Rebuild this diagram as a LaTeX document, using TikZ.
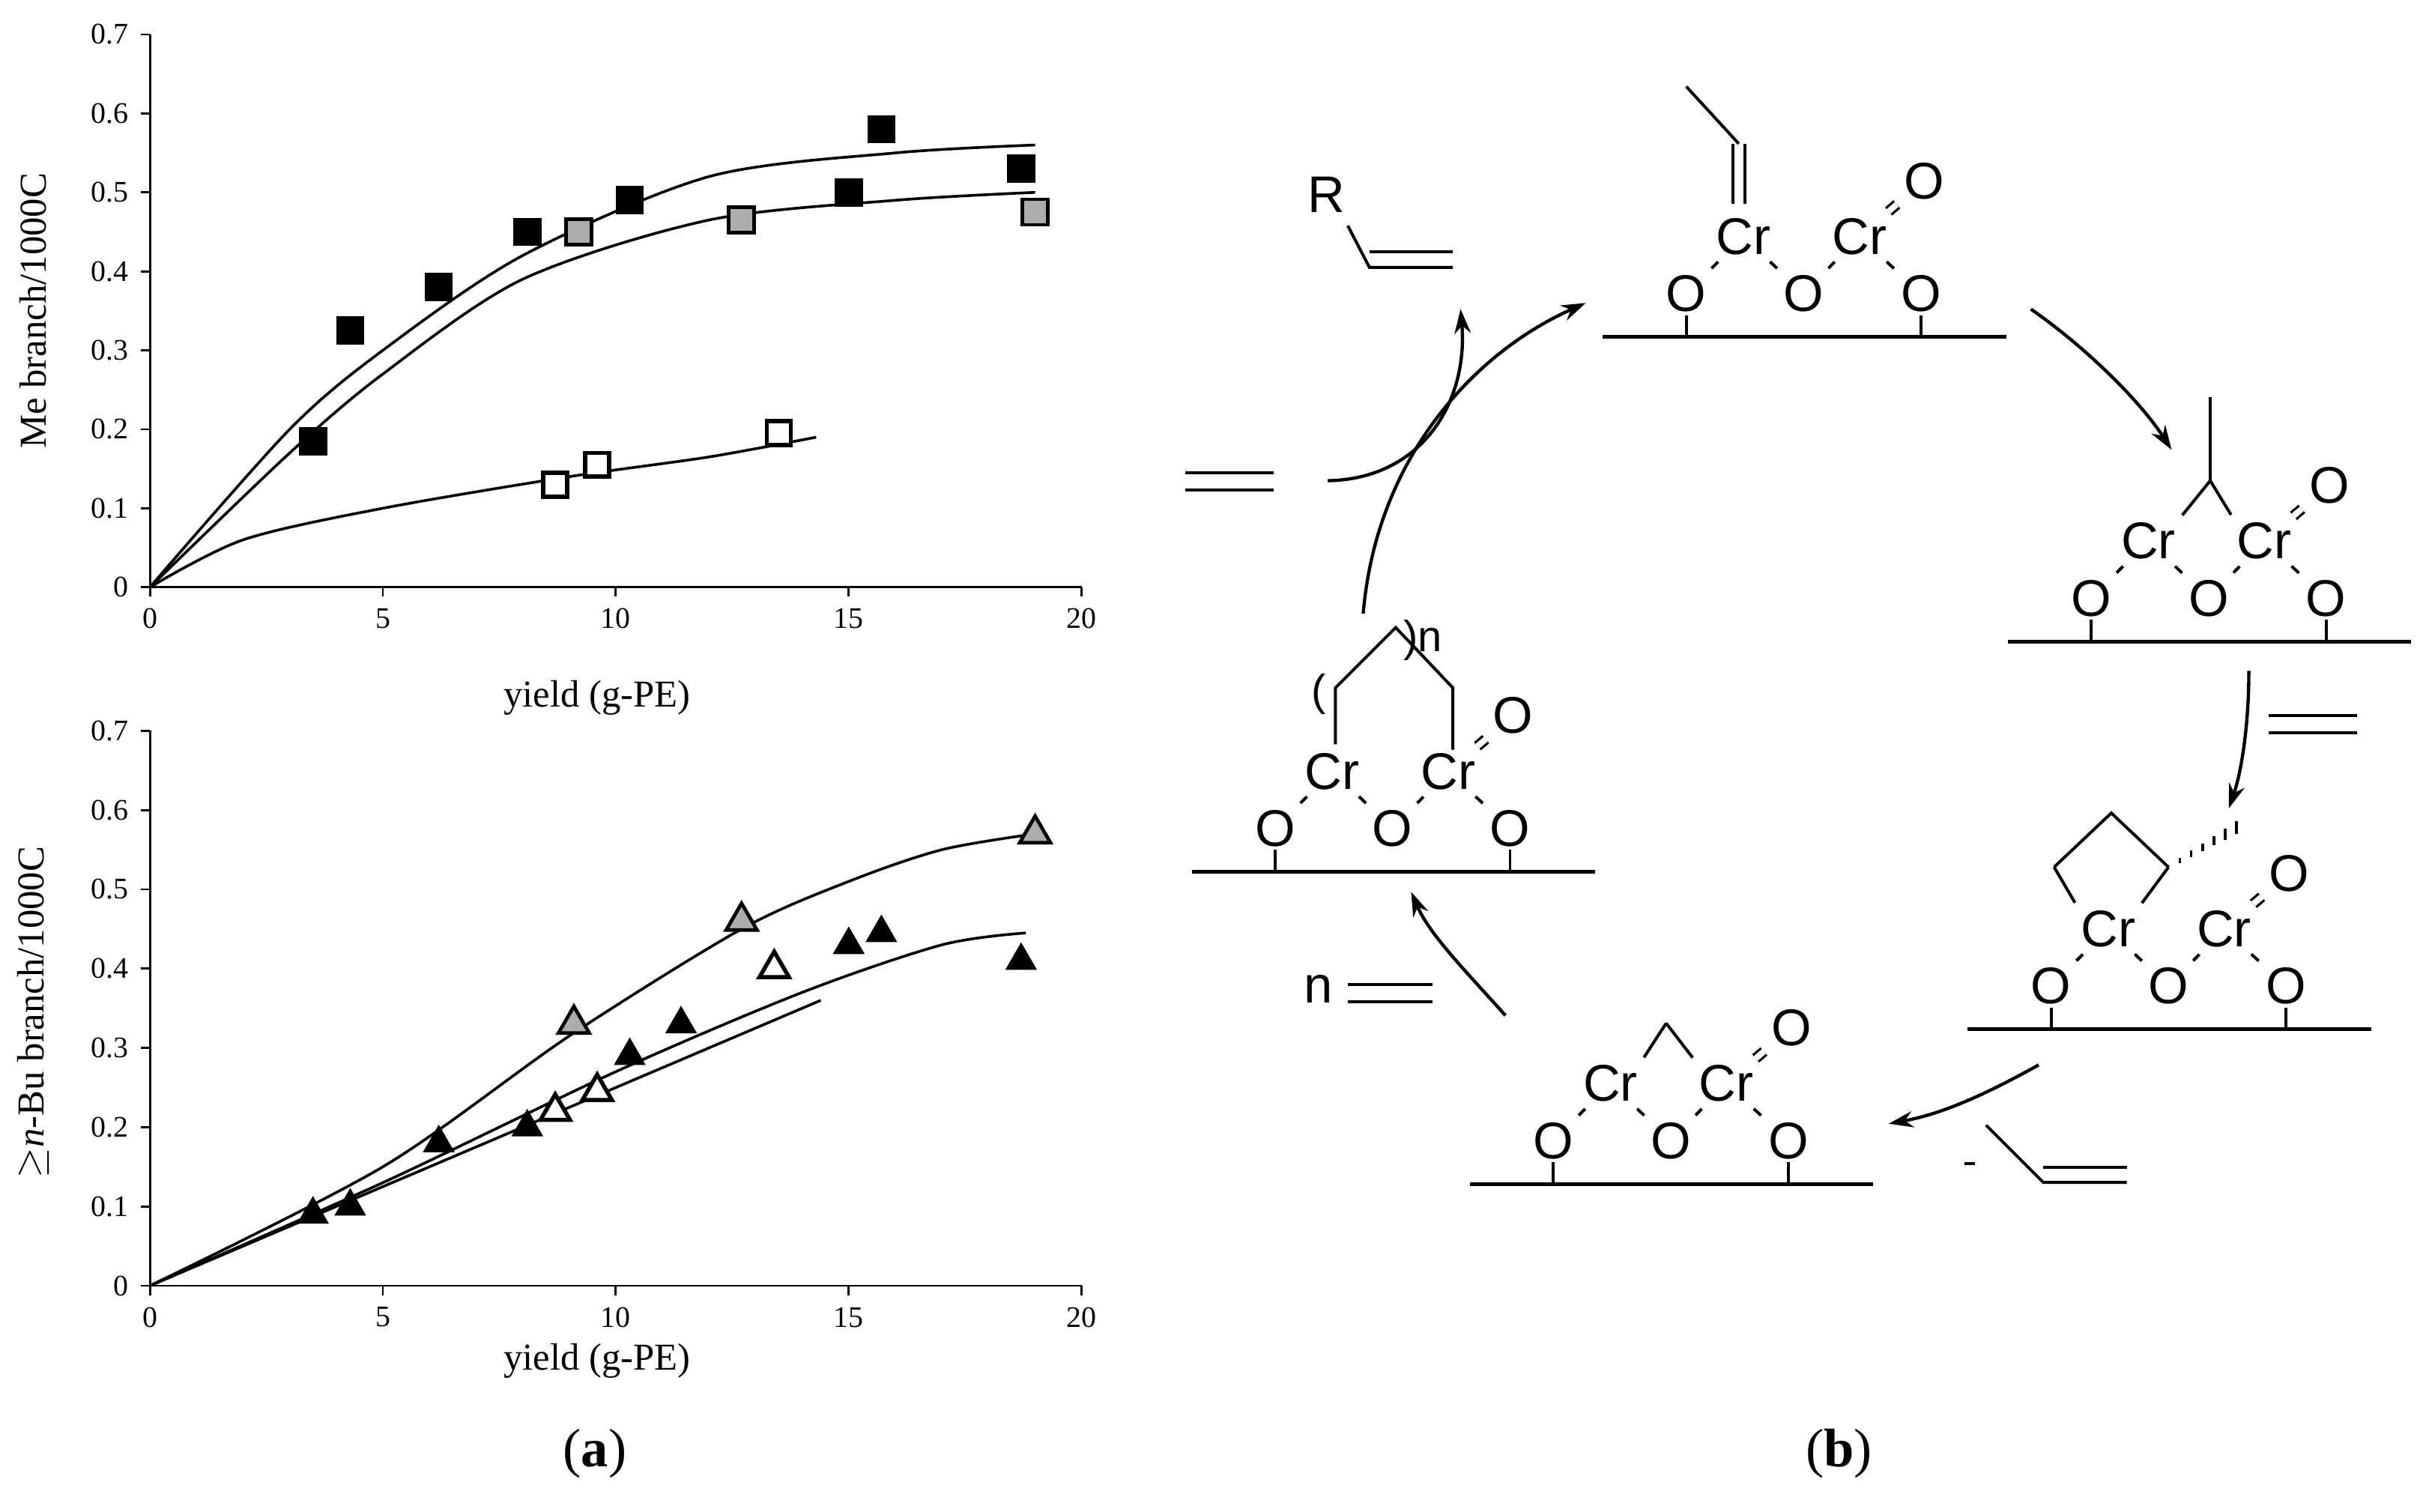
\documentclass[tikz,border=0pt]{standalone}
\usepackage{fontspec}
\setmainfont{Liberation Serif}
\newfontfamily\chemsf{Liberation Sans}
\usetikzlibrary{calc,arrows.meta,decorations.markings}
\tikzset{
 atm/.style={font=\chemsf\fontsize{19}{20}\selectfont,inner sep=1pt},
 bond/.style={line width=1.1pt,shorten >=2pt,shorten <=2pt},
 cbond/.style={line width=1.1pt},
 dbl/.style={line width=1.1pt},
 surf/.style={line width=1.4pt},
 rxn/.style={line width=1.2pt,-{Stealth[length=9pt,width=6pt]}},
 axis/.style={line width=0.8pt},
 tick/.style={font=\fontsize{11}{12}\selectfont},
 ttl/.style={font=\fontsize{14}{16}\selectfont},
 curve/.style={line width=1pt,smooth},
 sqb/.style={draw=black,fill=black,minimum size=0.33cm,inner sep=0pt,line width=1pt},
 sqg/.style={draw=black,fill=gray!65,minimum size=0.33cm,inner sep=0pt,line width=1.3pt},
 sqw/.style={draw=black,fill=white,minimum size=0.31cm,inner sep=0pt,line width=1.6pt},
 trib/.style={draw=black,fill=black,regular polygon,regular polygon sides=3,minimum size=0.42cm,inner sep=0pt,line width=0.8pt},
 trig/.style={draw=black,fill=gray!65,regular polygon,regular polygon sides=3,minimum size=0.46cm,inner sep=0pt,line width=1.3pt},
 triw/.style={draw=black,fill=white,regular polygon,regular polygon sides=3,minimum size=0.44cm,inner sep=0pt,line width=1.5pt},
}
\usetikzlibrary{shapes.geometric}
\newcommand{\crframe}[3]{%
 \coordinate (#1b) at (#2,#3);
 \node[atm] (#1o1) at (#1b) {O};
 \node[atm] (#1c1) at ($(#1b)+(37,-37)$) {Cr};
 \node[atm] (#1o2) at ($(#1b)+(76,0)$) {O};
 \node[atm] (#1c2) at ($(#1b)+(112,-37)$) {Cr};
 \node[atm] (#1o3) at ($(#1b)+(152,0)$) {O};
 \node[atm] (#1oe) at ($(#1b)+(154,-73)$) {O};
 \coordinate (#1sl) at ($(#1b)+(-54,28)$);
 \coordinate (#1sr) at ($(#1b)+(207,28)$);
 \draw[bond] (#1o1)--(#1c1);
 \draw[bond] (#1c1)--(#1o2);
 \draw[bond] (#1o2)--(#1c2);
 \draw[bond] (#1c2)--(#1o3);
 \draw[bond,double,double distance=2.2pt,line width=0.9pt] (#1c2)--(#1oe);
 \draw[surf] (#1sl)--(#1sr);
 \draw[cbond] (#1o1.south)--(#1o1.south |- #1sl);
 \draw[cbond] (#1o3.south)--(#1o3.south |- #1sl);
}
\begin{document}
\begin{tikzpicture}
\useasboundingbox (0,0) rectangle (31.36,19.56);
% ---------- plot 1 ----------
\begin{scope}[shift={(1.94,11.96)},x=0.603cm,y=10.22cm]
 \coordinate (p1o) at (0,0);
 \draw[axis] (0,0)--(20,0);
 \draw[axis] (0,0)--(0,0.7);
 \foreach \v in {0,5,10,15,20}{\draw[axis] (\v,0)--(\v,-0.012); \node[tick,below] at (\v,-0.015) {\v};}
 \foreach \v in {0,0.1,0.2,0.3,0.4,0.5,0.6,0.7}{\draw[axis] (0,\v)--(-0.2,\v); \node[tick,left] at (-0.25,\v) {\v};}
 \node[ttl] at (9.6,-0.14) {yield (g-PE)};
 \node[ttl,rotate=90] at (-2.5,0.35) {Me branch/1000C};
 \draw[curve] plot coordinates {(0,0) (3,0.2) (5,0.3) (8,0.42) (12,0.52) (16,0.55) (19,0.56)};
 \draw[curve] plot coordinates {(0,0) (3,0.17) (5,0.27) (8,0.39) (12,0.465) (16,0.49) (19,0.5)};
 \draw[curve] plot coordinates {(0,0) (2,0.06) (5,0.1) (9,0.14) (12,0.165) (14.3,0.19)};
 \foreach \a/\b [count=\i] in {3.5/0.185,4.3/0.325,6.2/0.38,8.1/0.45,10.3/0.49,15/0.5,15.7/0.58,18.7/0.53}
   \node[sqb] (pa\i) at (\a,\b) {};
 \foreach \a/\b [count=\i] in {9.2/0.45,12.7/0.465,19/0.475}
   \node[sqg] (pb\i) at (\a,\b) {};
 \foreach \a/\b [count=\i] in {8.7/0.13,9.6/0.155,13.5/0.195}
   \node[sqw] (pc\i) at (\a,\b) {};
\end{scope}
% ---------- plot 2 ----------
\begin{scope}[shift={(1.94,2.92)},x=0.603cm,y=10.26cm]
 \draw[axis] (0,0)--(20,0);
 \draw[axis] (0,0)--(0,0.7);
 \foreach \v in {0,5,10,15,20}{\draw[axis] (\v,0)--(\v,-0.012); \node[tick,below] at (\v,-0.015) {\v};}
 \foreach \v in {0,0.1,0.2,0.3,0.4,0.5,0.6,0.7}{\draw[axis] (0,\v)--(-0.2,\v); \node[tick,left] at (-0.25,\v) {\v};}
 \node[ttl] at (9.6,-0.095) {yield (g-PE)};
 \node[ttl,rotate=90] at (-2.5,0.345) {$\geq$\textit{n}-Bu branch/1000C};
 \draw[curve] plot coordinates {(0,0) (5,0.15) (9,0.315) (12.7,0.45) (15,0.51) (17,0.55) (19,0.57)};
 \draw[curve] plot coordinates {(0,0) (5,0.13) (10,0.27) (14,0.37) (17,0.43) (18.8,0.445)};
 \draw[curve] plot coordinates {(0,0) (5,0.125) (10,0.25) (14.4,0.36)};
 \foreach \a/\b [count=\i] in {3.5/0.09,4.3/0.1,6.2/0.18,8.1/0.2,10.3/0.29,11.4/0.33,15/0.43,15.7/0.445,18.7/0.41}
   \node[trib] (ta\i) at (\a,\b) {};
 \foreach \a/\b [count=\i] in {9.1/0.33,12.7/0.46,19/0.57}
   \node[trig] (tb\i) at (\a,\b) {};
 \foreach \a/\b [count=\i] in {8.7/0.22,9.6/0.245,13.4/0.4}
   \node[triw] (tc\i) at (\a,\b) {};
\end{scope}
\node[font=\fontsize{20}{22}\selectfont] (la) at (7.7,0.75) {(\textbf{a})};
\node[font=\fontsize{20}{22}\selectfont] (lb) at (23.8,0.75) {(\textbf{b})};
% ---------- scheme ----------
\begin{scope}[shift={(0,19.56)},x=0.02cm,y=-0.02cm]
 % structure 1 (top)
 \crframe{s1}{1091}{190}
 \coordinate (s1a) at (1091,56); \coordinate (s1c) at (1125,93);
 \draw[cbond] (s1a)--(s1c);
 \draw[cbond] (1121,93)--(1121,132) (1129,93)--(1129,132);
 % structure 2
 \crframe{s2}{1353}{387}
 \coordinate (s2m) at (1430,311); \coordinate (s2t) at (1430,257);
 \draw[cbond] (s2m)--(s2t);
 \draw[cbond,shorten >=2pt] (s2m)--(s2c1.north east);
 \draw[cbond,shorten >=2pt] (s2m)--(s2c2.north west);
 % structure 3
 \crframe{s3}{1327}{638}
 \coordinate (s3t) at (1366,526); \coordinate (s3l) at (1329,561); \coordinate (s3r) at (1403,561);
 \draw[cbond,shorten >=2pt] (s3l)--(s3c1.north west);
 \draw[cbond] (s3l)--(s3t)--(s3r);
 \draw[cbond,shorten >=2pt] (s3r)--(s3c1.north east);
 \foreach \t in {0.15,0.3,0.45,0.6,0.75,0.9}
   \draw[line width=1pt] ($(s3r)!\t!(1452,532)+(0,-3*\t-1)$)--($(s3r)!\t!(1452,532)+(0,4*\t+1)$);
 % structure 4
 \crframe{s4}{1005}{738}
 \coordinate (s4m) at (1078,662);
 \draw[cbond,shorten >=2pt] (s4m)--(s4c1.north east);
 \draw[cbond,shorten >=2pt] (s4m)--(s4c2.north west);
 % structure 5
 \crframe{s5}{825}{536}
 \coordinate (s5a) at (864,445); \coordinate (s5b) at (903,406); \coordinate (s5c) at (940,445);
 \draw[cbond,shorten <=2pt] (s5c1.north west -| s5a)--(s5a)--(s5b)--(s5c)--(s5c2.north west -| s5c);
 \node[atm,font=\chemsf\fontsize{16}{18}\selectfont] (s5p) at (853,449) {(};
 \node[atm,font=\chemsf\fontsize{16}{18}\selectfont,anchor=west] (s5n) at (906,414) {)n};
 % side species
 \node[atm] (R) at (858,126) {R};
 \coordinate (ra) at (872,146); \coordinate (rb) at (886,173);
 \draw[cbond] (ra)--(rb)--(940,173);
 \draw[cbond] (886,163)--(940,163);
 \coordinate (e1a) at (767,306); \coordinate (e1b) at (824,306);
 \draw[cbond] (e1a)--(e1b) (767,317)--(824,317);
 \draw[cbond] (1468,463)--(1525,463) (1468,474)--(1525,474);
 \node[atm] (nn) at (853,640) {n};
 \draw[cbond] (872,637)--(927,637) (872,648)--(927,648);
 \draw[cbond] (1271,753)--(1278,753);
 \draw[cbond] (1285,728)--(1322,765)--(1376,765);
 \draw[cbond] (1322,755)--(1376,755);
 % arrows
 \draw[rxn] (859,311) .. controls (920,310) and (950,260) .. (945,200);
 \draw[rxn] (882,397) .. controls (890,300) and (950,230) .. (1026,196);
 \draw[rxn] (1314,200) .. controls (1350,225) and (1385,260) .. (1405,291);
 \draw[rxn] (1455,434) .. controls (1455,470) and (1450,500) .. (1442,523);
 \draw[rxn] (1319,689) .. controls (1290,705) and (1260,720) .. (1222,727);
 \draw[rxn] (974,657) .. controls (950,630) and (925,605) .. (913,577);
\end{scope}
\end{tikzpicture}
\end{document}
